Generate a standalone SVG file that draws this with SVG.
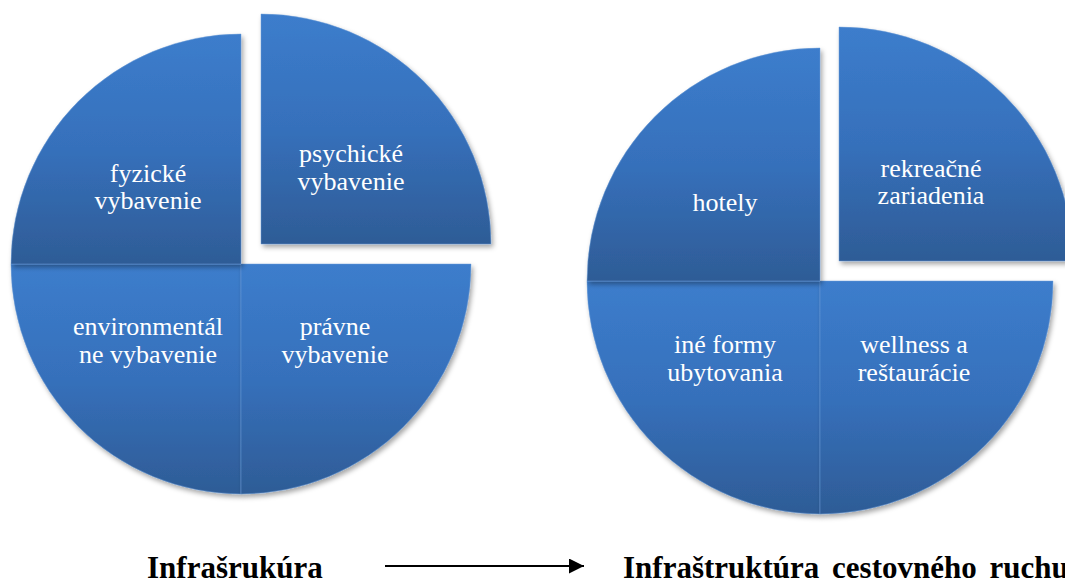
<svg xmlns="http://www.w3.org/2000/svg" width="1065" height="581" viewBox="0 0 1065 581">
<style>
.seg{fill:url(#g);stroke:#6b9bd6;stroke-width:0.8;stroke-opacity:0.6;filter:url(#sh)}
.lbl{font-family:"Liberation Serif","Times New Roman",serif;font-size:26px;fill:#ffffff;text-anchor:middle}
.ttl{font-family:"Liberation Serif","Times New Roman",serif;font-size:31px;font-weight:bold;fill:#000000}
</style>
<defs>
<linearGradient id="g" x1="0" y1="0" x2="0" y2="1">
<stop offset="0" stop-color="#3c7dcc"/>
<stop offset="0.5" stop-color="#3670bb"/>
<stop offset="1" stop-color="#2e5c96"/>
</linearGradient>
<filter id="sh" x="-10%" y="-10%" width="125%" height="125%">
<feDropShadow dx="2" dy="3" stdDeviation="2.5" flood-color="#000" flood-opacity="0.35"/>
</filter>
<marker id="ah" markerWidth="15" markerHeight="15" refX="15" refY="7.5" orient="auto" markerUnits="userSpaceOnUse">
<path d="M0,0 L15,7.5 L0,15 Z" fill="#000"/>
</marker>
</defs>
<g id="pie-left">
<g id="environmentalne"><path class="seg" d="M241,264 L241,494 A230,230 0 0 1 11,264 Z"/>
<text class="lbl" x="148" y="335">environmentál</text><text class="lbl" x="148" y="363">ne vybavenie</text></g>
<g id="pravne"><path class="seg" d="M241,264 L471,264 A230,230 0 0 1 241,494 Z"/>
<text class="lbl" x="335" y="335">právne</text><text class="lbl" x="335" y="363">vybavenie</text></g>
<g id="fyzicke"><path class="seg" d="M241,264 L11,264 A230,230 0 0 1 241,34 Z"/>
<text class="lbl" x="148" y="182">fyzické</text><text class="lbl" x="148" y="209">vybavenie</text></g>
<g id="psychicke"><path class="seg" d="M261,244 L261,14 A230,230 0 0 1 491,244 Z"/>
<text class="lbl" x="351" y="162">psychické</text><text class="lbl" x="351" y="190">vybavenie</text></g>
</g>
<g id="pie-right">
<g id="ine-formy"><path class="seg" d="M820,281 L820,514 A233,233 0 0 1 587,281 Z"/>
<text class="lbl" x="725" y="353">iné formy</text><text class="lbl" x="725" y="381">ubytovania</text></g>
<g id="wellness"><path class="seg" d="M820,281 L1053,281 A233,233 0 0 1 820,514 Z"/>
<text class="lbl" x="914" y="353">wellness a</text><text class="lbl" x="914" y="381">reštaurácie</text></g>
<g id="hotely"><path class="seg" d="M820,281 L587,281 A233,233 0 0 1 820,48 Z"/>
<text class="lbl" x="725" y="211">hotely</text></g>
<g id="rekreacne"><path class="seg" d="M839,261 L839,27 A234,234 0 0 1 1073,261 Z"/>
<text class="lbl" x="931" y="177">rekreačné</text><text class="lbl" x="931" y="204">zariadenia</text></g>
</g>
<g id="title-left"><text class="ttl" x="147" y="578">Infrašrukúra</text></g>
<g id="title-right"><text class="ttl" x="623" y="578" word-spacing="5">Infraštruktúra cestovného ruchu</text></g>
<g id="connectors">
<line x1="385" y1="566" x2="584" y2="566" stroke="#000" stroke-width="2.2" marker-end="url(#ah)"/>
</g>
</svg>
